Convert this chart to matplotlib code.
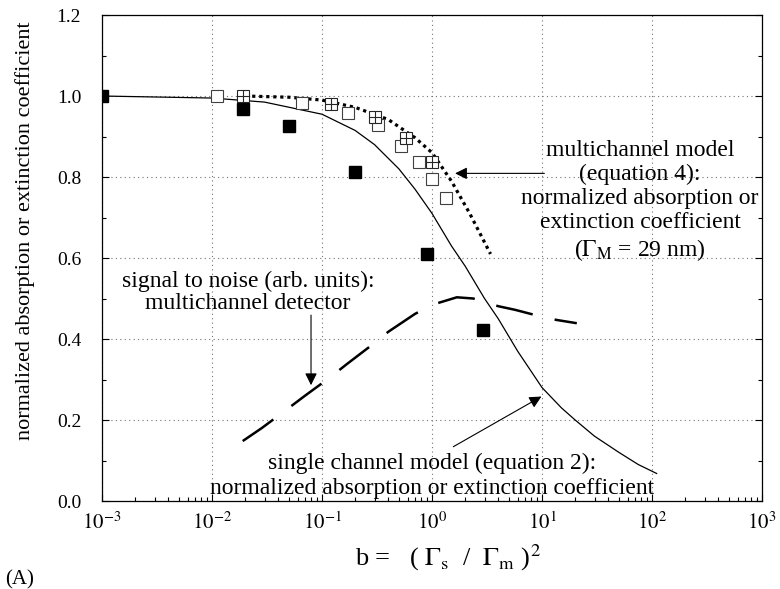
import matplotlib
matplotlib.use("Agg")
import matplotlib.pyplot as plt
from matplotlib.ticker import MultipleLocator, LogLocator, NullFormatter

plt.rcParams["font.family"] = ["Liberation Serif", "DejaVu Serif"]
plt.rcParams["mathtext.fontset"] = "stix"

# ---- data ----
filled_b = [0.001, 0.019, 0.05, 0.2, 0.9, 2.9]
filled_y = [1.0, 0.968, 0.927, 0.813, 0.61, 0.422]

open_b = [0.0111, 0.066, 0.172, 0.323, 0.522, 0.755, 1.0, 1.33]
open_y = [1.0, 0.982, 0.959, 0.929, 0.877, 0.837, 0.796, 0.748]

cross_b = [0.019, 0.121, 0.303, 0.577, 1.0]
cross_y = [1.0, 0.980, 0.949, 0.896, 0.837]

single_b = [0.001, 0.01, 0.03, 0.1, 0.2, 0.3, 0.5, 0.7, 1.0, 1.5, 2.0, 3.0, 4.0,
            6.0, 10.0, 15.0, 20.0, 30.0, 50.0, 75.0, 110.0]
single_y = [1.0, 0.995, 0.985, 0.955, 0.915, 0.88, 0.82, 0.77, 0.71, 0.63, 0.58,
            0.50, 0.45, 0.37, 0.28, 0.23, 0.20, 0.16, 0.12, 0.09, 0.068]

multi_b = [0.02, 0.05, 0.1, 0.2, 0.4, 0.7, 1.0, 1.5, 2.2, 3.4]
multi_y = [1.0, 0.997, 0.99, 0.972, 0.942, 0.897, 0.86, 0.79, 0.71, 0.61]

snr_b = [0.019, 0.0283, 0.0478, 0.070, 0.118, 0.168, 0.283, 0.401, 0.70, 0.99,
         1.68, 2.37, 4.0, 5.7, 9.9, 13.6, 20.7]
snr_y = [0.148, 0.18, 0.226, 0.26, 0.305, 0.338, 0.385, 0.418, 0.462, 0.484,
         0.503, 0.50, 0.481, 0.472, 0.455, 0.447, 0.439]

x_ticks = [1e-3, 1e-2, 1e-1, 1e0, 1e1, 1e2, 1e3]
x_ticklabels = [r"$10^{-3}$", r"$10^{-2}$", r"$10^{-1}$", r"$10^{0}$",
                r"$10^{1}$", r"$10^{2}$", r"$10^{3}$"]
y_ticks = [0.0, 0.2, 0.4, 0.6, 0.8, 1.0, 1.2]
y_ticklabels = ["0.0", "0.2", "0.4", "0.6", "0.8", "1.0", "1.2"]

fig = plt.figure(figsize=(7.8, 5.89), dpi=100)
ax = fig.add_axes([0.1308, 0.1494, 0.8462, 0.8251])

ax.set_xscale("log")
ax.set_xlim(1e-3, 1e3)
ax.set_ylim(0.0, 1.2)

# grid
ax.grid(True, which="major", color="0.45", linestyle=(0, (1, 3)), linewidth=0.8)

# curves
ax.plot(single_b, single_y, color="k", lw=0.9, zorder=3)
ax.plot(multi_b, multi_y, color="k", lw=2.3, linestyle=(0, (1, 1.2)), zorder=3)
ax.plot(snr_b, snr_y, color="k", lw=1.8, linestyle=(0, (15, 9)), zorder=3)

# markers
ax.plot(filled_b, filled_y, "s", color="k", ms=8, zorder=4)
ax.plot(open_b, open_y, "s", mfc="white", mec="0.25", mew=0.8, ms=8, zorder=4)
ax.plot(cross_b, cross_y, "s", mfc="white", mec="0.15", mew=0.8, ms=8, zorder=4)
ax.plot(cross_b, cross_y, "+", color="0.15", mew=0.8, ms=8, zorder=5)

# ticks
ax.set_xticks(x_ticks)
ax.set_xticklabels(x_ticklabels)
ax.xaxis.set_minor_locator(LogLocator(base=10, subs=range(2, 10), numticks=20))
ax.xaxis.set_minor_formatter(NullFormatter())
ax.set_yticks(y_ticks)
ax.set_yticklabels(y_ticklabels)
ax.yaxis.set_minor_locator(MultipleLocator(0.1))
ax.tick_params(which="both", direction="in", top=False, right=True, width=0.8)
ax.tick_params(axis="y", which="major", length=5, pad=15, labelsize=14)
ax.tick_params(axis="y", which="minor", length=3)
ax.tick_params(axis="x", which="major", length=5, pad=8, labelsize=15)
ax.tick_params(axis="x", which="minor", length=3)
ax.set_xlim(1e-3, 1e3)
for s in ax.spines.values():
    s.set_linewidth(0.9)

# labels
ax.set_ylabel("normalized absorption or extinction coefficient", fontsize=16)
ax.yaxis.set_label_coords(-0.102, 0.556)
ax.set_xlabel(r"b =   ( $\Gamma_{\rm s}$  /  $\Gamma_{\rm m}$ )$^{2}$", fontsize=19)
ax.xaxis.set_label_coords(0.524, -0.086)
fig.text(0.006, 0.0, "(A)", fontsize=15, ha="left", va="bottom")

# annotations
arrow = dict(arrowstyle="-|>", color="k", lw=0.8, mutation_scale=18,
             shrinkA=0, shrinkB=0)
ax.text(78, 0.74,
        "multichannel model\n(equation 4):\nnormalized absorption or\nextinction coefficient\n"
        r"($\Gamma_{\rm M}$ = 29 nm)",
        ha="center", va="center", multialignment="center", fontsize=17,
        linespacing=1.2)
ax.annotate("", xy=(1.62, 0.809), xytext=(10.5, 0.809), arrowprops=arrow)

ax.text(0.0212, 0.515, "signal to noise (arb. units):\nmultichannel detector",
        ha="center", va="center", multialignment="center", fontsize=17,
        linespacing=1.1)
ax.annotate("", xy=(0.0794, 0.286), xytext=(0.0794, 0.459), arrowprops=arrow)

ax.text(1.0, 0.062,
        "single channel model (equation 2):\nnormalized absorption or extinction coefficient",
        ha="center", va="center", multialignment="center", fontsize=17,
        linespacing=1.19)
ax.annotate("", xy=(9.87, 0.258), xytext=(1.56, 0.134), arrowprops=arrow)

fig.savefig("out.png", dpi=100)
